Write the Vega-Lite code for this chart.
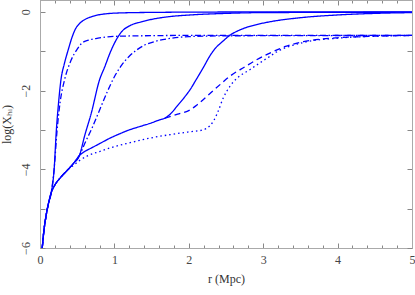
{
  "$schema": "https://vega.github.io/schema/vega-lite/v6.json",
  "width": 372,
  "height": 248,
  "autosize": {"type": "none"},
  "padding": {"left": 40, "top": 0, "right": 3, "bottom": 47},
  "config": {
    "view": {"stroke": "#aaaaaa", "strokeWidth": 1},
    "axis": {
      "labelFont": "Liberation Serif",
      "titleFont": "Liberation Serif",
      "labelFontSize": 12,
      "titleFontSize": 12,
      "titleFontWeight": "normal",
      "labelColor": "#444444",
      "titleColor": "#333333",
      "tickColor": "#888888",
      "domainColor": "#aaaaaa",
      "grid": false,
      "labelFlush": false,
      "labelOverlap": false
    }
  },
  "data": {
    "values": [
      {"s": "g1s", "d": "solid", "r": 0.03, "y": -6},
      {"s": "g1s", "d": "solid", "r": 0.05, "y": -5.6},
      {"s": "g1s", "d": "solid", "r": 0.08, "y": -5.2},
      {"s": "g1s", "d": "solid", "r": 0.11, "y": -4.9},
      {"s": "g1s", "d": "solid", "r": 0.15, "y": -4.6},
      {"s": "g1s", "d": "solid", "r": 0.19, "y": -4.0},
      {"s": "g1s", "d": "solid", "r": 0.22, "y": -3.0},
      {"s": "g1s", "d": "solid", "r": 0.25, "y": -2.3},
      {"s": "g1s", "d": "solid", "r": 0.28, "y": -1.75},
      {"s": "g1s", "d": "solid", "r": 0.33, "y": -1.3},
      {"s": "g1s", "d": "solid", "r": 0.38, "y": -0.96},
      {"s": "g1s", "d": "solid", "r": 0.43, "y": -0.65},
      {"s": "g1s", "d": "solid", "r": 0.47, "y": -0.46},
      {"s": "g1s", "d": "solid", "r": 0.53, "y": -0.3},
      {"s": "g1s", "d": "solid", "r": 0.6, "y": -0.2},
      {"s": "g1s", "d": "solid", "r": 0.7, "y": -0.12},
      {"s": "g1s", "d": "solid", "r": 0.78, "y": -0.08},
      {"s": "g1s", "d": "solid", "r": 1.05, "y": -0.03},
      {"s": "g1s", "d": "solid", "r": 1.5, "y": -0.015},
      {"s": "g1s", "d": "solid", "r": 2.5, "y": -0.005},
      {"s": "g1s", "d": "solid", "r": 5, "y": 0},

      {"s": "g1dd", "d": "dashdot", "r": 0.03, "y": -6},
      {"s": "g1dd", "d": "dashdot", "r": 0.05, "y": -5.6},
      {"s": "g1dd", "d": "dashdot", "r": 0.08, "y": -5.2},
      {"s": "g1dd", "d": "dashdot", "r": 0.11, "y": -4.9},
      {"s": "g1dd", "d": "dashdot", "r": 0.15, "y": -4.6},
      {"s": "g1dd", "d": "dashdot", "r": 0.19, "y": -4.0},
      {"s": "g1dd", "d": "dashdot", "r": 0.23, "y": -3.0},
      {"s": "g1dd", "d": "dashdot", "r": 0.27, "y": -2.3},
      {"s": "g1dd", "d": "dashdot", "r": 0.33, "y": -1.73},
      {"s": "g1dd", "d": "dashdot", "r": 0.42, "y": -1.22},
      {"s": "g1dd", "d": "dashdot", "r": 0.5, "y": -0.95},
      {"s": "g1dd", "d": "dashdot", "r": 0.56, "y": -0.8},
      {"s": "g1dd", "d": "dashdot", "r": 0.65, "y": -0.72},
      {"s": "g1dd", "d": "dashdot", "r": 0.78, "y": -0.67},
      {"s": "g1dd", "d": "dashdot", "r": 1.05, "y": -0.62},
      {"s": "g1dd", "d": "dashdot", "r": 2, "y": -0.6},
      {"s": "g1dd", "d": "dashdot", "r": 5, "y": -0.6},

      {"s": "g2s", "d": "solid", "r": 0.03, "y": -6},
      {"s": "g2s", "d": "solid", "r": 0.05, "y": -5.6},
      {"s": "g2s", "d": "solid", "r": 0.08, "y": -5.2},
      {"s": "g2s", "d": "solid", "r": 0.11, "y": -4.9},
      {"s": "g2s", "d": "solid", "r": 0.15, "y": -4.6},
      {"s": "g2s", "d": "solid", "r": 0.2, "y": -4.4},
      {"s": "g2s", "d": "solid", "r": 0.28, "y": -4.2},
      {"s": "g2s", "d": "solid", "r": 0.38, "y": -4.0},
      {"s": "g2s", "d": "solid", "r": 0.45, "y": -3.85},
      {"s": "g2s", "d": "solid", "r": 0.53, "y": -3.65},
      {"s": "g2s", "d": "solid", "r": 0.6, "y": -3.15},
      {"s": "g2s", "d": "solid", "r": 0.69, "y": -2.57},
      {"s": "g2s", "d": "solid", "r": 0.8, "y": -1.73},
      {"s": "g2s", "d": "solid", "r": 0.87, "y": -1.4},
      {"s": "g2s", "d": "solid", "r": 0.94, "y": -1.05},
      {"s": "g2s", "d": "solid", "r": 1.0, "y": -0.8},
      {"s": "g2s", "d": "solid", "r": 1.05, "y": -0.63},
      {"s": "g2s", "d": "solid", "r": 1.1, "y": -0.5},
      {"s": "g2s", "d": "solid", "r": 1.21, "y": -0.35},
      {"s": "g2s", "d": "solid", "r": 1.35, "y": -0.26},
      {"s": "g2s", "d": "solid", "r": 1.48, "y": -0.2},
      {"s": "g2s", "d": "solid", "r": 1.75, "y": -0.12},
      {"s": "g2s", "d": "solid", "r": 2.02, "y": -0.08},
      {"s": "g2s", "d": "solid", "r": 2.5, "y": -0.04},
      {"s": "g2s", "d": "solid", "r": 3, "y": -0.02},
      {"s": "g2s", "d": "solid", "r": 5, "y": -0.01},

      {"s": "g2dd", "d": "dashdot", "r": 0.03, "y": -6},
      {"s": "g2dd", "d": "dashdot", "r": 0.05, "y": -5.6},
      {"s": "g2dd", "d": "dashdot", "r": 0.08, "y": -5.2},
      {"s": "g2dd", "d": "dashdot", "r": 0.11, "y": -4.9},
      {"s": "g2dd", "d": "dashdot", "r": 0.15, "y": -4.6},
      {"s": "g2dd", "d": "dashdot", "r": 0.2, "y": -4.4},
      {"s": "g2dd", "d": "dashdot", "r": 0.28, "y": -4.2},
      {"s": "g2dd", "d": "dashdot", "r": 0.38, "y": -4.0},
      {"s": "g2dd", "d": "dashdot", "r": 0.45, "y": -3.85},
      {"s": "g2dd", "d": "dashdot", "r": 0.53, "y": -3.65},
      {"s": "g2dd", "d": "dashdot", "r": 0.6, "y": -3.35},
      {"s": "g2dd", "d": "dashdot", "r": 0.7, "y": -2.95},
      {"s": "g2dd", "d": "dashdot", "r": 0.8, "y": -2.5},
      {"s": "g2dd", "d": "dashdot", "r": 0.9, "y": -2.05},
      {"s": "g2dd", "d": "dashdot", "r": 1.0, "y": -1.65},
      {"s": "g2dd", "d": "dashdot", "r": 1.1, "y": -1.35},
      {"s": "g2dd", "d": "dashdot", "r": 1.2, "y": -1.13},
      {"s": "g2dd", "d": "dashdot", "r": 1.3, "y": -0.97},
      {"s": "g2dd", "d": "dashdot", "r": 1.4, "y": -0.85},
      {"s": "g2dd", "d": "dashdot", "r": 1.55, "y": -0.75},
      {"s": "g2dd", "d": "dashdot", "r": 1.7, "y": -0.69},
      {"s": "g2dd", "d": "dashdot", "r": 2.0, "y": -0.63},
      {"s": "g2dd", "d": "dashdot", "r": 2.5, "y": -0.61},
      {"s": "g2dd", "d": "dashdot", "r": 5, "y": -0.6},

      {"s": "g3s", "d": "solid", "r": 0.03, "y": -6},
      {"s": "g3s", "d": "solid", "r": 0.05, "y": -5.6},
      {"s": "g3s", "d": "solid", "r": 0.08, "y": -5.2},
      {"s": "g3s", "d": "solid", "r": 0.11, "y": -4.9},
      {"s": "g3s", "d": "solid", "r": 0.15, "y": -4.6},
      {"s": "g3s", "d": "solid", "r": 0.2, "y": -4.4},
      {"s": "g3s", "d": "solid", "r": 0.28, "y": -4.2},
      {"s": "g3s", "d": "solid", "r": 0.38, "y": -4.0},
      {"s": "g3s", "d": "solid", "r": 0.45, "y": -3.85},
      {"s": "g3s", "d": "solid", "r": 0.53, "y": -3.65},
      {"s": "g3s", "d": "solid", "r": 0.6, "y": -3.55},
      {"s": "g3s", "d": "solid", "r": 0.7, "y": -3.45},
      {"s": "g3s", "d": "solid", "r": 0.82, "y": -3.33},
      {"s": "g3s", "d": "solid", "r": 0.94, "y": -3.21},
      {"s": "g3s", "d": "solid", "r": 1.07, "y": -3.1},
      {"s": "g3s", "d": "solid", "r": 1.2, "y": -3.0},
      {"s": "g3s", "d": "solid", "r": 1.35, "y": -2.91},
      {"s": "g3s", "d": "solid", "r": 1.5, "y": -2.82},
      {"s": "g3s", "d": "solid", "r": 1.6, "y": -2.75},
      {"s": "g3s", "d": "solid", "r": 1.68, "y": -2.7},
      {"s": "g3s", "d": "solid", "r": 1.75, "y": -2.6},
      {"s": "g3s", "d": "solid", "r": 1.85, "y": -2.38},
      {"s": "g3s", "d": "solid", "r": 1.95, "y": -2.15},
      {"s": "g3s", "d": "solid", "r": 2.02, "y": -1.97},
      {"s": "g3s", "d": "solid", "r": 2.1, "y": -1.72},
      {"s": "g3s", "d": "solid", "r": 2.2, "y": -1.4},
      {"s": "g3s", "d": "solid", "r": 2.28, "y": -1.13},
      {"s": "g3s", "d": "solid", "r": 2.36, "y": -0.92},
      {"s": "g3s", "d": "solid", "r": 2.45, "y": -0.76},
      {"s": "g3s", "d": "solid", "r": 2.55, "y": -0.6},
      {"s": "g3s", "d": "solid", "r": 2.7, "y": -0.45},
      {"s": "g3s", "d": "solid", "r": 2.9, "y": -0.33},
      {"s": "g3s", "d": "solid", "r": 3.1, "y": -0.25},
      {"s": "g3s", "d": "solid", "r": 3.5, "y": -0.15},
      {"s": "g3s", "d": "solid", "r": 4, "y": -0.08},
      {"s": "g3s", "d": "solid", "r": 4.5, "y": -0.04},
      {"s": "g3s", "d": "solid", "r": 5, "y": -0.02},

      {"s": "g3d", "d": "dashed", "r": 1.68, "y": -2.7},
      {"s": "g3d", "d": "dashed", "r": 1.85, "y": -2.6},
      {"s": "g3d", "d": "dashed", "r": 2.02, "y": -2.49},
      {"s": "g3d", "d": "dashed", "r": 2.1, "y": -2.38},
      {"s": "g3d", "d": "dashed", "r": 2.2, "y": -2.22},
      {"s": "g3d", "d": "dashed", "r": 2.3, "y": -2.05},
      {"s": "g3d", "d": "dashed", "r": 2.45, "y": -1.8},
      {"s": "g3d", "d": "dashed", "r": 2.55, "y": -1.64},
      {"s": "g3d", "d": "dashed", "r": 2.75, "y": -1.4},
      {"s": "g3d", "d": "dashed", "r": 2.91, "y": -1.22},
      {"s": "g3d", "d": "dashed", "r": 3.09, "y": -1.05},
      {"s": "g3d", "d": "dashed", "r": 3.3, "y": -0.88},
      {"s": "g3d", "d": "dashed", "r": 3.54, "y": -0.76},
      {"s": "g3d", "d": "dashed", "r": 3.8, "y": -0.69},
      {"s": "g3d", "d": "dashed", "r": 4.0, "y": -0.66},
      {"s": "g3d", "d": "dashed", "r": 4.5, "y": -0.62},
      {"s": "g3d", "d": "dashed", "r": 5, "y": -0.6},

      {"s": "g3o", "d": "dotted", "r": 0.38, "y": -4.0},
      {"s": "g3o", "d": "dotted", "r": 0.45, "y": -3.9},
      {"s": "g3o", "d": "dotted", "r": 0.53, "y": -3.78},
      {"s": "g3o", "d": "dotted", "r": 0.65, "y": -3.65},
      {"s": "g3o", "d": "dotted", "r": 0.8, "y": -3.55},
      {"s": "g3o", "d": "dotted", "r": 0.94, "y": -3.46},
      {"s": "g3o", "d": "dotted", "r": 1.2, "y": -3.33},
      {"s": "g3o", "d": "dotted", "r": 1.5, "y": -3.2},
      {"s": "g3o", "d": "dotted", "r": 1.75, "y": -3.12},
      {"s": "g3o", "d": "dotted", "r": 2.0, "y": -3.05},
      {"s": "g3o", "d": "dotted", "r": 2.19, "y": -3.0},
      {"s": "g3o", "d": "dotted", "r": 2.28, "y": -2.9},
      {"s": "g3o", "d": "dotted", "r": 2.33, "y": -2.78},
      {"s": "g3o", "d": "dotted", "r": 2.4, "y": -2.5},
      {"s": "g3o", "d": "dotted", "r": 2.46, "y": -2.2},
      {"s": "g3o", "d": "dotted", "r": 2.55, "y": -1.9},
      {"s": "g3o", "d": "dotted", "r": 2.64, "y": -1.7},
      {"s": "g3o", "d": "dotted", "r": 2.82, "y": -1.47},
      {"s": "g3o", "d": "dotted", "r": 3.05, "y": -1.18},
      {"s": "g3o", "d": "dotted", "r": 3.2, "y": -1.0},
      {"s": "g3o", "d": "dotted", "r": 3.54, "y": -0.78},
      {"s": "g3o", "d": "dotted", "r": 4.0, "y": -0.67},
      {"s": "g3o", "d": "dotted", "r": 4.5, "y": -0.62},
      {"s": "g3o", "d": "dotted", "r": 5, "y": -0.6}
    ]
  },
  "layer": [
    {
      "mark": {"type": "line", "strokeWidth": 1.3, "color": "#0000ff", "interpolate": "monotone", "clip": true},
      "encoding": {
        "x": {
          "field": "r", "type": "quantitative",
          "scale": {"domain": [0, 5], "nice": false, "zero": false},
          "axis": {
            "orient": "bottom",
            "title": "r (Mpc)",
            "values": [0, 0.2, 0.4, 0.6, 0.8, 1, 1.2, 1.4, 1.6, 1.8, 2, 2.2, 2.4, 2.6, 2.8, 3, 3.2, 3.4, 3.6, 3.8, 4, 4.2, 4.4, 4.6, 4.8, 5],
            "labelExpr": "datum.value % 1 === 0 ? format(datum.value, 'd') : ''",
            "tickSize": {"condition": {"test": "datum.value % 1 === 0", "value": -5}, "value": -3},
            "labelPadding": 11,
            "titlePadding": 6
          }
        },
        "y": {
          "field": "y", "type": "quantitative",
          "scale": {"domain": [-6, 0.3], "nice": false, "zero": false},
          "axis": {
            "orient": "left",
            "title": "log(Xₕᵢ)",
            "values": [-6, -5, -4, -3, -2, -1, 0],
            "labelExpr": "datum.value % 2 === 0 ? format(datum.value, 'd') : ''",
            "tickSize": -5,
            "labelAngle": -90,
            "labelAlign": "center",
            "labelBaseline": "bottom",
            "labelPadding": 13,
            "titlePadding": 6
          }
        },
        "detail": {"field": "s"},
        "strokeDash": {
          "field": "d", "type": "nominal",
          "scale": {"domain": ["solid", "dashed", "dotted", "dashdot"], "range": [[1, 0], [6, 4], [1.5, 3], [6, 2.5, 1.5, 2.5]]},
          "legend": null
        }
      }
    },
    {
      "mark": {"type": "line", "opacity": 0},
      "encoding": {
        "x": {
          "field": "r", "type": "quantitative",
          "axis": {
            "orient": "top",
            "title": null,
            "labels": false,
            "values": [0, 0.2, 0.4, 0.6, 0.8, 1, 1.2, 1.4, 1.6, 1.8, 2, 2.2, 2.4, 2.6, 2.8, 3, 3.2, 3.4, 3.6, 3.8, 4, 4.2, 4.4, 4.6, 4.8, 5],
            "tickSize": {"condition": {"test": "datum.value % 1 === 0", "value": -5}, "value": -3}
          }
        },
        "y": {
          "field": "y", "type": "quantitative",
          "axis": {
            "orient": "right",
            "title": null,
            "labels": false,
            "values": [-6, -5, -4, -3, -2, -1, 0],
            "tickSize": -5
          }
        },
        "detail": {"field": "s"}
      }
    }
  ],
  "resolve": {"axis": {"x": "independent", "y": "independent"}}
}
